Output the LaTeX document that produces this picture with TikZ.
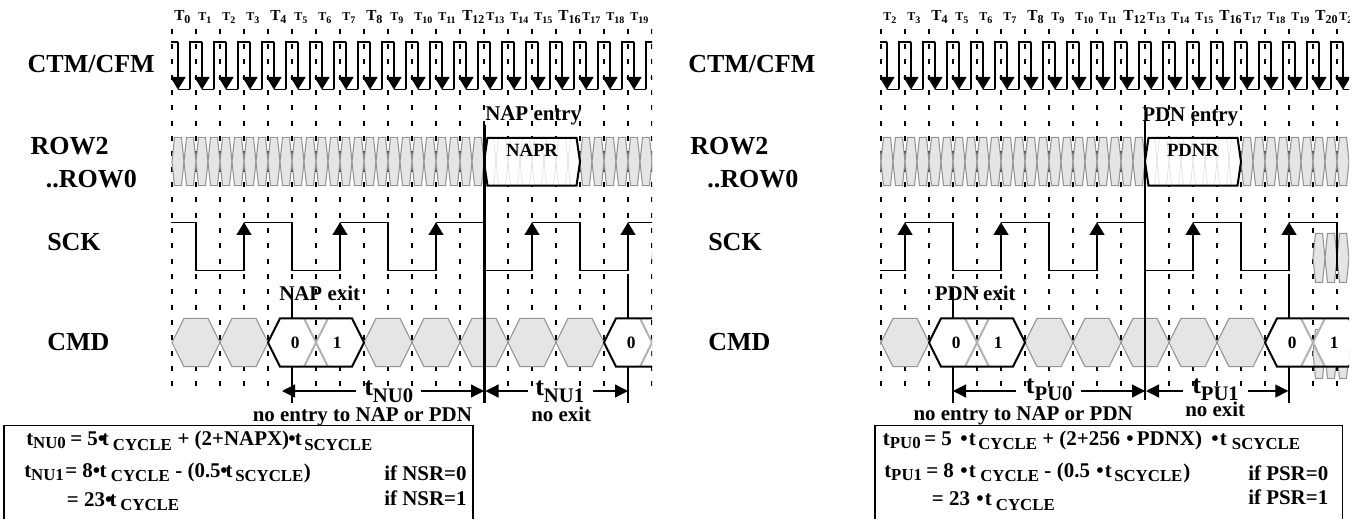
\documentclass[tikz,border=0pt]{standalone}
\usepackage{fontspec}
\setmainfont{Liberation Serif}
\usetikzlibrary{arrows.meta}
\newcommand{\lsub}[3]{\raisebox{-#1pt}{\fontsize{#2}{#2}\selectfont #3}}
\newcommand{\hexcell}[6][]{\path[#1] (#2,#5) -- (#2+#4,#3) -- (#2+24*0+#6-#4,#3) -- (#2+#6,#5) -- (#2+#6-#4,2*#5-#3) -- (#2+#4,2*#5-#3) -- cycle;}
\tikzset{
  every node/.style={inner sep=0pt, anchor=base west},
  sigfont/.style={font=\fontsize{19.5}{20}\selectfont\bfseries},
  labfont/.style={font=\fontsize{15.7}{16}\selectfont\bfseries},
  subfont/.style={font=\fontsize{12.6}{13}\selectfont\bfseries},
  midfont/.style={font=\fontsize{13}{14}\selectfont\bfseries},
  regfont/.style={font=\fontsize{14}{15}\selectfont\bfseries},
  bigt/.style={font=\fontsize{11.5}{12}\selectfont\bfseries},
  smallt/.style={font=\fontsize{9}{10}\selectfont\bfseries},
  tick/.style={line width=1.2pt, dash pattern=on 3.75pt off 7.75pt},
  wave/.style={line width=1.2pt},
  sckwave/.style={line width=0.95pt},
  edgetip/.style={-{Triangle[width=11.25pt,length=9.5pt]}},
  dimline/.style={line width=1pt, -{Triangle[width=9.75pt,length=9.75pt]}},
  graycell/.style={fill=black!10, draw=black!42, line width=0.8pt},
  ghostcell/.style={draw=black!12, line width=0.5pt},
  boldcell/.style={draw=black, line width=1.5pt, line join=miter},
  heavy/.style={line width=2pt},
  boxline/.style={line width=1.1pt}
}
\begin{document}
\begin{tikzpicture}[x=0.75pt, y=-0.75pt]
  \useasboundingbox (0,0) rectangle (1364,519);
  \foreach \side/\sx/\tfirst/\tlast/\xend in {l/0/0/19/652, r/661/2/21/688}{
    \begin{scope}[shift={(\sx,0)}]
      \clip (172+24*\tfirst-1,0) rectangle (\xend,410);
      \foreach \k in {\tfirst,...,21}{
        \draw[tick] (172+24*\k,28.5) -- (172+24*\k,389);
        \draw[wave] (172+24*\k-6,89.3) -- (172+24*\k-6,41.7) -- (172+24*\k+6,41.7);
        \draw[wave, edgetip] (172+24*\k+6,41.7) -- (172+24*\k+6,89.6);
        \draw[wave] (172+24*\k+6,89.3) -- (172+24*\k+18,89.3);
      }
      \foreach \k in {\tfirst,...,\tlast}{
        \pgfmathtruncatemacro{\kmod}{mod(\k,4)}
        \ifnum\kmod=0
          \node[bigt] (tl\side\k) at (174+24*\k,20.7) {T\lsub{2.2}{9}{\k}};
        \else
          \node[smallt] (tl\side\k) at (174+24*\k,20.7) {T\lsub{1.8}{7.5}{\k}};
        \fi
      }
      \foreach \j in {0,...,42}{
        \ifnum\j<26 \hexcell[graycell]{172+12*\j}{137.4}{2.5}{161.5}{12}\fi
        \ifnum\j>33 \hexcell[graycell]{172+12*\j}{137.4}{2.5}{161.5}{12}\fi
      }
      \foreach \j in {40,41,42}{
        \hexcell[graycell]{172+12*\j}{233.3}{2.5}{257.8}{12}
        \hexcell[graycell]{172+12*\j}{329.3}{2.5}{353.8}{12}
      }
      \hexcell[fill=white]{484}{137.8}{3.5}{161.7}{96}
      \foreach \j in {26,...,33}{
        \hexcell[ghostcell]{172+12*\j}{137.8}{2.5}{161.7}{12}
      }
      \hexcell[boldcell]{484}{137.8}{3.5}{161.7}{96}
      \foreach \n in {-1,...,4}{
        \draw[sckwave] (196+96*\n,270.6) -- (244+96*\n,270.6);
        \draw[sckwave, edgetip] (244+96*\n,270.6) -- (244+96*\n,222.3);
        \draw[sckwave] (244+96*\n,222.6) -- (292+96*\n,222.6) -- (292+96*\n,270.6);
      }
      \draw[heavy] (292,288) -- (292,403);
      \draw[heavy] (628,278) -- (628,403);
      \foreach \m in {0,1,4,5,6,7,8}{
        \hexcell[graycell]{172+48*\m}{318.3}{12}{342.5}{48}
      }
      \foreach \a in {268,604}{
        \hexcell[fill=white]{\a}{318.3}{12}{342.5}{48}
        \hexcell[fill=white]{\a+48}{318.3}{12}{342.5}{48}
        \draw[black!30, line width=1.5pt] (\a+36,318.3) -- (\a+60,366.7);
        \draw[black!30, line width=1.5pt] (\a+60,318.3) -- (\a+36,366.7);
        \hexcell[boldcell]{\a}{318.3}{12}{342.5}{96}
      }
      \node[midfont] (zero\side a) at (290.5,348) {0};
      \node[midfont] (one\side a) at (332.5,348) {1};
      \node[midfont] (zero\side b) at (626.5,348) {0};
      \node[midfont] (one\side b) at (668.5,348) {1};
    \end{scope}
  }
  \node[sigfont] (ctml) at (27.4,72.7) {CTM/CFM};
  \node[sigfont] (rowtl) at (30.3,154) {ROW2};
  \node[sigfont] (rowbl) at (45.5,187) {..ROW0};
  \node[sigfont] (sckl) at (47,250.7) {SCK};
  \node[sigfont] (cmdl) at (47,350) {CMD};
  \node[sigfont] (ctmr) at (688,72.7) {CTM/CFM};
  \node[sigfont] (rowtr) at (690,154) {ROW2};
  \node[sigfont] (rowbr) at (707,187) {..ROW0};
  \node[sigfont] (sckr) at (708,250.7) {SCK};
  \node[sigfont] (cmdr) at (708,350) {CMD};

  \draw[heavy] (484.3,125) -- (484.3,403);
  \draw[heavy] (1145,125) -- (1145,400);
  \node[labfont] (napen) at (485,120.7) {NAP entry};
  \node[labfont] (pdnen) at (1142,121.5) {PDN entry};
  \node[regfont] (napr) at (532,153) [anchor=mid] {NAPR};
  \node[regfont] (pdnr) at (1193,153) [anchor=mid] {PDNR};
  \node[labfont] (napex) at (279,300.7) {NAP exit};
  \node[labfont] (pdnex) at (934.6,300.7) {PDN exit};

  \coordinate (nua) at (356,391); \coordinate (nub) at (282,391);
  \coordinate (nuc) at (421,391); \coordinate (nud) at (484,391);
  \coordinate (nue) at (528,391); \coordinate (nuf) at (485.5,391);
  \coordinate (nug) at (593,391); \coordinate (nuh) at (628,391);
  \draw[dimline] (nua) -- (nub); \draw[dimline] (nuc) -- (nud);
  \draw[dimline] (nue) -- (nuf); \draw[dimline] (nug) -- (nuh);
  \node[sigfont] (tnua) at (364,395) {t\lsub{5.8}{15.5}{NU0}};
  \node[sigfont] (tnub) at (535,395) {t\lsub{5.8}{15.5}{NU1}};
  \coordinate (pua) at (1015.7,391); \coordinate (pub) at (953,391);
  \coordinate (puc) at (1080.7,391); \coordinate (pud) at (1145,391);
  \coordinate (pue) at (1183,391); \coordinate (puf) at (1146,391);
  \coordinate (pug) at (1248,391); \coordinate (puh) at (1288.3,391);
  \draw[dimline] (pua) -- (pub); \draw[dimline] (puc) -- (pud);
  \draw[dimline] (pue) -- (puf); \draw[dimline] (pug) -- (puh);
  \node[sigfont] (tpua) at (1025.7,393.3) {t\lsub{5.5}{15.5}{PU0}};
  \node[sigfont] (tpub) at (1192,393.3) {t\lsub{5.5}{15.5}{PU1}};
  \node[labfont] (nenl) at (252.5,421) {no entry to NAP or PDN};
  \node[labfont] (nexl) at (531,421) {no exit};
  \node[labfont] (nenr) at (913.3,420.7) {no entry to NAP or PDN};
  \node[labfont] (nexr) at (1185,416.7) {no exit};

  \coordinate (bla) at (4,519); \coordinate (blb) at (4,425.7);
  \coordinate (blc) at (473,425.7); \coordinate (bld) at (473,519);
  \draw[boxline] (bla) -- (blb) -- (blc) -- (bld);
  \coordinate (bra) at (875,519); \coordinate (brb) at (875,425.7);
  \coordinate (brc) at (1342.7,425.7); \coordinate (brd) at (1342.7,519);
  \draw[boxline] (bra) -- (brb) -- (brc) -- (brd);

  \node[labfont] (la1) at (26,445.5) {t\lsub{2.5}{12.6}{NU0}};
  \node[labfont] (la2) at (70,445.5) {= 5•\kern-2.5pt t};
  \node[subfont] (la3) at (112.7,450) {CYCLE};
  \node[labfont] (la4) at (177.3,445.5) {+ (2+NAPX)};
  \node[labfont] (la5) at (288,445.5) {•\kern-.5pt t};
  \node[subfont] (la6) at (304,450) {SCYCLE};
  \node[labfont] (lb1) at (24,477) {t\lsub{2.5}{12.6}{NU1}};
  \node[labfont] (lb2) at (65,477) {= 8•\kern-.5pt t};
  \node[subfont] (lb3) at (110.7,481.7) {CYCLE};
  \node[labfont] (lb4) at (175,477) {-};
  \node[labfont] (lb5) at (187.3,477) {(0.5};
  \node[labfont] (lb6) at (220,477) {•\kern-1.5pt t};
  \node[subfont] (lb7) at (235,481.7) {SCYCLE};
  \node[labfont] (lb8) at (303.5,478) {)};
  \node[labfont] (lb9) at (384,480) {if NSR=0};
  \node[labfont] (lc1) at (66.7,506) {= 23•\kern-2pt t};
  \node[subfont] (lc2) at (120,510) {CYCLE};
  \node[labfont] (lc3) at (384,505) {if NSR=1};

  \node[labfont] (ra1) at (882.7,445) {t\lsub{2.5}{12.6}{PU0}};
  \node[labfont] (ra2) at (924,445) {= 5};
  \node[labfont] (ra3) at (960,445) {•\kern1pt t};
  \node[subfont] (ra4) at (978,449.7) {CYCLE};
  \node[labfont] (ra5) at (1042,445) {+ (2+256};
  \node[labfont] (ra6) at (1126,445) {•\kern2.5pt PDNX)};
  \node[labfont] (ra7) at (1211,445) {•\kern1pt t};
  \node[subfont] (ra8) at (1231.7,449.7) {SCYCLE};
  \node[labfont] (rb1) at (884,477) {t\lsub{2.5}{12.6}{PU1}};
  \node[labfont] (rb2) at (926,477) {= 8};
  \node[labfont] (rb3) at (960,477) {•\kern1pt t};
  \node[subfont] (rb4) at (980,481.7) {CYCLE};
  \node[labfont] (rb5) at (1044,477) {-};
  \node[labfont] (rb6) at (1056.7,477) {(0.5};
  \node[labfont] (rb7) at (1096,477) {•\kern1pt t};
  \node[subfont] (rb8) at (1114,481.7) {SCYCLE};
  \node[labfont] (rb9) at (1183,478) {)};
  \node[labfont] (rb10) at (1248,480) {if PSR=0};
  \node[labfont] (rc1) at (931.7,505.7) {= 23};
  \node[labfont] (rc2) at (976,505.7) {•\kern1pt t};
  \node[subfont] (rc3) at (995.7,510) {CYCLE};
  \node[labfont] (rc4) at (1248,504.3) {if PSR=1};
\end{tikzpicture}
\end{document}
